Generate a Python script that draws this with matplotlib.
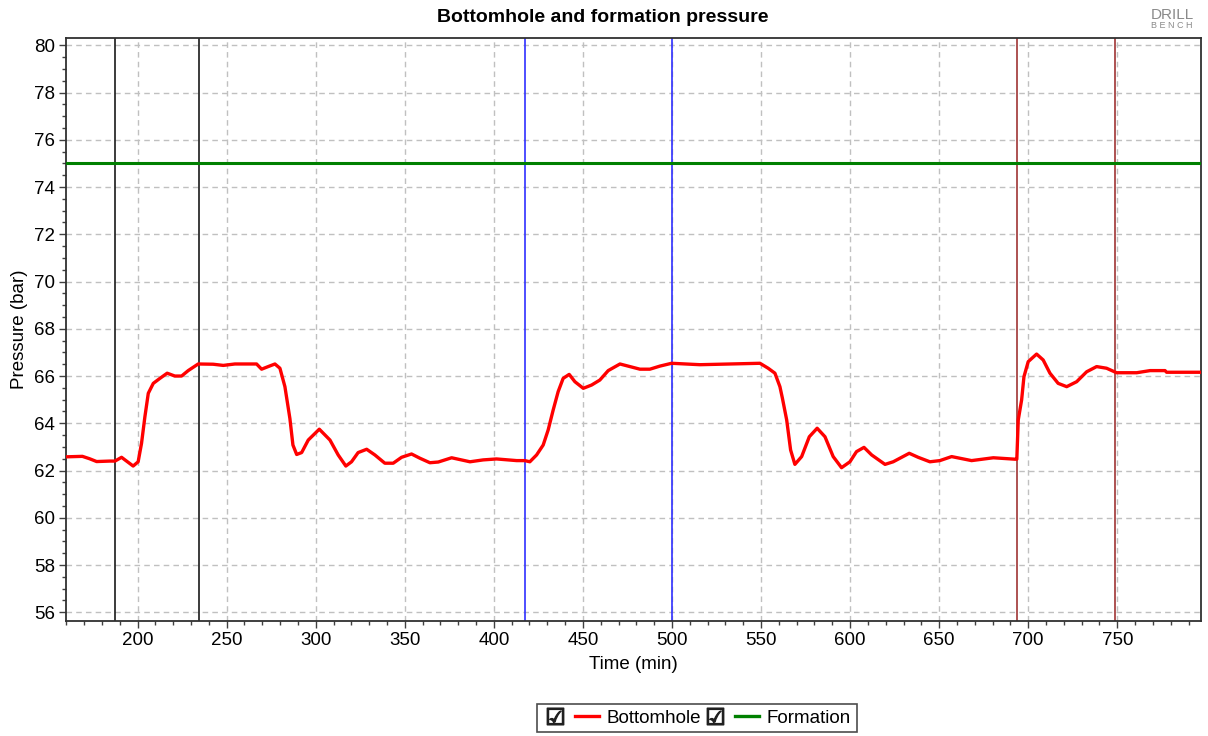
import matplotlib
matplotlib.use("Agg")
import matplotlib.pyplot as plt
from matplotlib.lines import Line2D
from matplotlib.legend_handler import HandlerTuple
from matplotlib.ticker import MultipleLocator

plt.rcParams['font.family'] = ['Liberation Sans', 'DejaVu Sans']

# ---------- DATA ----------
time_min = [160, 169, 173, 177, 184.4, 187.3, 191.0, 192.9, 197.5, 200.3, 202.2, 204.1, 206.0,
            208.8, 212.5, 216.6, 220.9, 224.7, 228.4, 234.0, 242.4, 248.1, 254.6, 266.8,
            269.6, 273.3, 277.1, 279.9, 282.7, 285.5, 287.2, 289.3, 292.1, 295.8, 302.0,
            308.0, 312.6, 316.9, 320.1, 323.8, 328.6, 333.2, 338.8, 343.5, 348.2, 353.8,
            358.5, 364.1, 368.8, 376.3, 386.6, 394.0, 401.5, 412.8, 417.4, 420.2, 424.0,
            427.7, 430.5, 433.3, 436.1, 438.9, 442.3, 445.5, 450.2, 454.9, 459.5, 464.2,
            470.8, 476.4, 482.0, 487.6, 493.2, 499.8, 515.7, 527.0, 549.4, 554.0, 557.8,
            560.6, 562.0, 564.4, 566.6, 569.0, 572.8, 577.1, 581.5, 585.9, 590.5, 595.2,
            599.9, 603.6, 607.8, 612.1, 619.6, 624.2, 633.2, 638.2, 644.8, 650.4, 657.0,
            668.2, 680.4, 692.5, 693.6, 694.4, 696.3, 697.6, 700.0, 704.7, 708.4, 712.2,
            716.8, 721.6, 727.2, 732.8, 738.4, 744.0, 749.6, 760.9, 768.4, 776.8, 777.7,
            797]
bottomhole = [62.58, 62.6, 62.5, 62.38, 62.40, 62.40, 62.56, 62.45, 62.19, 62.37, 63.15, 64.28,
              65.27, 65.69, 65.90, 66.12, 66.0, 66.0, 66.23, 66.51, 66.50, 66.45, 66.51,
              66.51, 66.29, 66.40, 66.51, 66.33, 65.55, 64.2, 63.08, 62.68, 62.76, 63.29,
              63.75, 63.29, 62.66, 62.19, 62.37, 62.76, 62.9, 62.66, 62.31, 62.31, 62.56,
              62.70, 62.52, 62.33, 62.36, 62.54, 62.37, 62.45, 62.49, 62.42, 62.42, 62.37,
              62.66, 63.08, 63.72, 64.56, 65.34, 65.90, 66.07, 65.76, 65.48, 65.62, 65.83,
              66.23, 66.51, 66.40, 66.29, 66.29, 66.42, 66.54, 66.48, 66.5, 66.54, 66.33,
              66.12, 65.55, 65.06, 64.14, 62.87, 62.26, 62.59, 63.43, 63.79, 63.43, 62.59,
              62.12, 62.37, 62.80, 62.98, 62.66, 62.26, 62.37, 62.73, 62.56, 62.37, 62.42,
              62.59, 62.42, 62.54, 62.48, 62.48, 64.14, 64.99, 65.97, 66.61, 66.93, 66.68,
              66.12, 65.69, 65.55, 65.76, 66.18, 66.40, 66.33, 66.14, 66.14, 66.23, 66.23,
              66.16, 66.16]
formation_pressure = 75.0

event_lines = [187.3, 234.4, 417.4, 500.0, 693.6, 748.7]
event_colors = ['#1a1a1a', '#1a1a1a', '#3030ff', '#3030ff', '#a03535', '#a03535']

# ---------- PLOT ----------
fig = plt.figure(figsize=(12.08, 7.36), dpi=100)
ax = fig.add_axes([66 / 1208, 1 - 621 / 736, 1135 / 1208, 583 / 736])

ax.set_xlim(159.8, 797)
ax.set_ylim(55.63, 80.31)
ax.xaxis.set_major_locator(MultipleLocator(50))
ax.xaxis.set_minor_locator(MultipleLocator(10))
ax.yaxis.set_major_locator(MultipleLocator(2))
ax.yaxis.set_minor_locator(MultipleLocator(0.5))
ax.grid(True, which='major', color='#c0c0c0', linestyle=(0, (4, 3)), linewidth=1.0)
ax.set_axisbelow(True)
ax.tick_params(which='major', length=5, width=1, color='#404040', labelsize=13.5, pad=3)
ax.tick_params(which='minor', length=3, width=1, color='#404040')
for s in ax.spines.values():
    s.set_color('#303030')
    s.set_linewidth(1.3)

for xv, c in zip(event_lines, event_colors):
    ax.axvline(xv, color=c, linewidth=1.2, zorder=2)

ax.axhline(formation_pressure, color='#008000', linewidth=2.2, zorder=3)
ax.plot(time_min, bottomhole, color='#ff0000', linewidth=2.4, zorder=4,
        solid_joinstyle='round')

ax.set_xlabel("Time (min)", fontsize=13.5, labelpad=5)
ax.set_ylabel("Pressure (bar)", fontsize=13.5, labelpad=4)
fig.text(603 / 1208, 1 - 17 / 736, "Bottomhole and formation pressure",
         ha='center', va='center', fontsize=14, fontweight='bold')

# logo
fig.text(1172 / 1208, 1 - 15 / 736, "DRILL", ha='center', va='center',
         fontsize=11, color='#8a8a8a')
fig.text(1172 / 1208, 1 - 25 / 736, "B E N C H", ha='center', va='center',
         fontsize=6.5, color='#8a8a8a')

# legend with checkboxes
chk = Line2D([], [], linestyle='none', marker='$☑$', markersize=12, color='#202020')
h1 = Line2D([], [], color='#ff0000', linewidth=2.4)
h2 = Line2D([], [], color='#008000', linewidth=2.4)
leg = fig.legend([(chk, h1), (chk, h2)], ["Bottomhole", "Formation"],
                 handler_map={tuple: HandlerTuple(ndivide=2, pad=0.4)},
                 loc='center', bbox_to_anchor=(697 / 1208, 1 - 718 / 736),
                 ncol=2, fontsize=13.5, frameon=True, fancybox=False,
                 handlelength=3.0, handletextpad=0.4, columnspacing=0.1,
                 borderpad=0.3, edgecolor='#202020')
leg.get_frame().set_linewidth(1.2)

fig.savefig("out.png", dpi=100)
